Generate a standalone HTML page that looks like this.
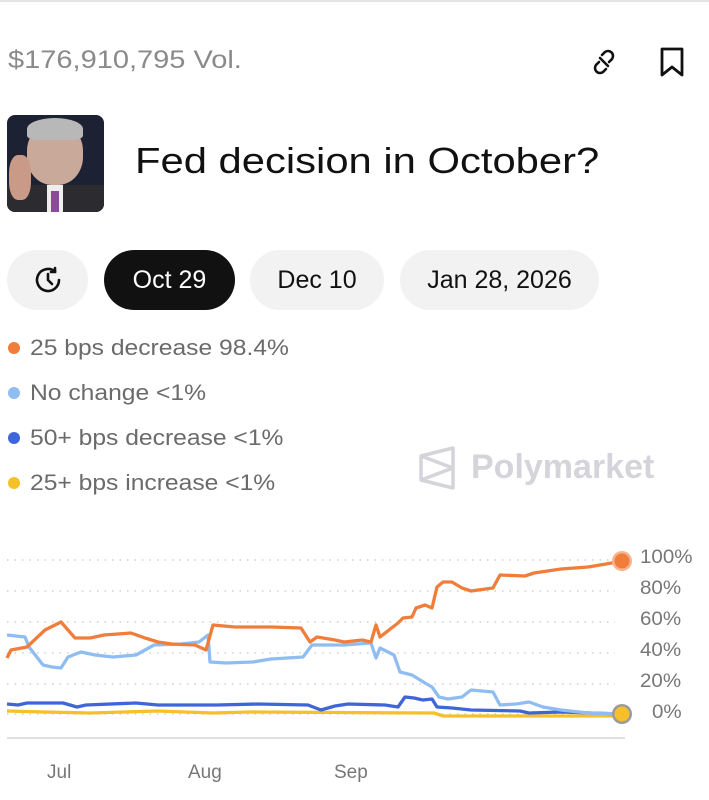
<!DOCTYPE html>
<html><head><meta charset="utf-8"><style>
body{margin:0;width:709px;height:800px;background:#fff;position:relative;overflow:hidden;font-family:"Liberation Sans",sans-serif}
.a{position:absolute;white-space:nowrap}
.btn{position:absolute;top:250px;height:60px;border-radius:30px;background:#f2f2f2;color:#111;font-size:25px;line-height:60px;text-align:center}
.lg{position:absolute;left:30px;font-size:22px;color:#6b6b6b;line-height:24px;transform-origin:0 50%;transform:scaleX(1.12)}
.dot{position:absolute;left:8px;width:12px;height:12px;border-radius:50%}
.yl{position:absolute;left:640px;font-size:19px;color:#777;line-height:20px;transform-origin:0 50%;transform:scaleX(1.08)}
</style></head><body>
<div class="a" style="left:0;top:0;width:709px;height:2px;background:#e4e4e4"></div>
<div class="a" style="left:8px;top:46px;font-size:25px;color:#8a8a8a;transform-origin:0 50%;transform:scaleX(1.16)">$176,910,795 Vol.</div>
<svg class="a" style="left:588px;top:46px" width="32" height="32" viewBox="0 0 32 32" fill="none" stroke="#111" stroke-width="2.6" stroke-linecap="round"><path d="M14 9l3-3a5 5 0 0 1 7 7l-3 3"/><path d="M18 23l-3 3a5 5 0 0 1-7-7l3-3"/><path d="M12 12l8 8" /></svg>
<svg class="a" style="left:658px;top:46px" width="28" height="32" viewBox="0 0 28 32" fill="none" stroke="#111" stroke-width="2.8" stroke-linejoin="round"><path d="M4 3h20v26l-10-8-10 8z"/></svg>
<div class="a" style="left:7px;top:115px;width:97px;height:97px;border-radius:8px;background:#1c2233;overflow:hidden">
<div class="a" style="left:20px;top:8px;width:56px;height:62px;border-radius:45%;background:#c9a99a"></div>
<div class="a" style="left:20px;top:3px;width:56px;height:22px;border-radius:50% 50% 20% 20%;background:#b8b8b8"></div>
<div class="a" style="left:0;top:70px;width:97px;height:30px;background:#2b2b30"></div>
<div class="a" style="left:40px;top:70px;width:16px;height:27px;background:#eee"></div>
<div class="a" style="left:44px;top:76px;width:8px;height:22px;background:#8b4aa0"></div>
<div class="a" style="left:2px;top:40px;width:22px;height:45px;border-radius:40%;background:#c99a88"></div>
</div>
<div class="a" style="left:135px;top:140px;font-size:36px;color:#111;transform-origin:0 50%;transform:scaleX(1.16)">Fed decision in October?</div>
<div class="btn" style="left:7px;width:81px"><svg style="margin-top:15px" width="30" height="30" viewBox="0 0 30 30" fill="none" stroke="#111" stroke-width="2.6" stroke-linecap="round"><path d="M26 15a11 11 0 1 1-4-8.5"/><path d="M22 3v4h-4"/><path d="M15 9v6l4 4"/></svg></div>
<div class="btn" style="left:104px;width:131px;background:#111;color:#fff">Oct 29</div>
<div class="btn" style="left:250px;width:134px">Dec 10</div>
<div class="btn" style="left:400px;width:199px">Jan 28, 2026</div>
<div class="dot" style="top:342px;background:#f07d3a"></div><div class="lg" style="top:336px">25 bps decrease 98.4%</div>
<div class="dot" style="top:387px;background:#8fbdf2"></div><div class="lg" style="top:381px">No change &lt;1%</div>
<div class="dot" style="top:432px;background:#3f66d8"></div><div class="lg" style="top:426px">50+ bps decrease &lt;1%</div>
<div class="dot" style="top:477px;background:#f5c02a"></div><div class="lg" style="top:471px">25+ bps increase &lt;1%</div>
<svg class="a" style="left:418px;top:446px" width="40" height="44" viewBox="0 0 40 44" fill="none" stroke="#d4d4da" stroke-width="3.5" stroke-linejoin="round"><path d="M3 10L35 2V42L3 34Z"/><path d="M3 10L35 22L3 34"/></svg>
<div class="a" style="left:471px;top:448px;font-size:34px;color:#d4d4da;font-weight:bold">Polymarket</div>
<svg class="a" style="left:0;top:0" width="709" height="800">
<g stroke="#cfcfcf" stroke-width="1.5" stroke-dasharray="1.5 6">
<line x1="7" y1="560" x2="615" y2="560"/><line x1="7" y1="591" x2="615" y2="591"/><line x1="7" y1="622" x2="615" y2="622"/><line x1="7" y1="653" x2="615" y2="653"/><line x1="7" y1="684" x2="615" y2="684"/><line x1="7" y1="714" x2="615" y2="714"/></g>
<line x1="7" y1="738" x2="625" y2="738" stroke="#e0e0e0" stroke-width="2"/>
<g fill="none" stroke-width="3.3" stroke-linejoin="round">
<polyline stroke="#f5c02a" points="7,711 45,712 90,713 158,711 213,713 249,712 434,713 443,716 622,716"/>
<polyline stroke="#3f66d8" points="7,704 18,705 27,703 63,703 77,707 86,705 136,703 158,705 217,705 258,704 308,705 321,710 335,706 348,704 385,705 398,707 405,697 414,698 423,700 432,699 437,707 452,708 471,710 520,711 529,713 561,712 622,714"/>
<polyline stroke="#8fbdf2" points="7,635 25,637 29,647 43,665 52,667 61,668 68,657 81,652 95,655 113,657 136,655 145,650 154,645 181,644 199,642 208,635 210,662 226,663 253,662 271,659 303,657 312,645 344,645 371,643 376,658 380,648 394,655 400,672 412,675 425,683 432,687 439,697 448,699 462,697 471,690 493,692 500,705 516,704 529,702 543,707 561,710 588,713 622,714"/>
<polyline stroke="#f07d3a" points="7,658 11,650 27,647 45,630 61,622 75,638 90,638 104,635 131,633 145,638 158,642 172,644 195,645 206,650 213,625 235,627 271,627 301,628 310,642 317,637 335,640 344,642 362,640 371,642 376,625 380,637 389,630 398,623 403,618 412,617 416,608 425,605 432,608 437,587 443,582 452,582 462,588 471,591 493,588 500,575 525,576 534,573 561,569 588,567 606,564 622,561"/>
</g>
<circle cx="622" cy="561" r="10" fill="#f7b48c"/><circle cx="622" cy="561" r="7.5" fill="#f07d3a"/>
<circle cx="622" cy="714" r="10" fill="#9a9a9a"/><circle cx="622" cy="714" r="7.5" fill="#f5c02a"/>
</svg>
<div class="yl" style="top:548px">100%</div>
<div class="yl" style="top:579px">80%</div>
<div class="yl" style="top:610px">60%</div>
<div class="yl" style="top:641px">40%</div>
<div class="yl" style="top:672px">20%</div>
<div class="yl" style="top:703px;left:652px">0%</div>
<div class="a" style="left:47px;top:762px;font-size:19px;color:#777">Jul</div>
<div class="a" style="left:188px;top:762px;font-size:19px;color:#777">Aug</div>
<div class="a" style="left:334px;top:762px;font-size:19px;color:#777">Sep</div>
</body></html>
